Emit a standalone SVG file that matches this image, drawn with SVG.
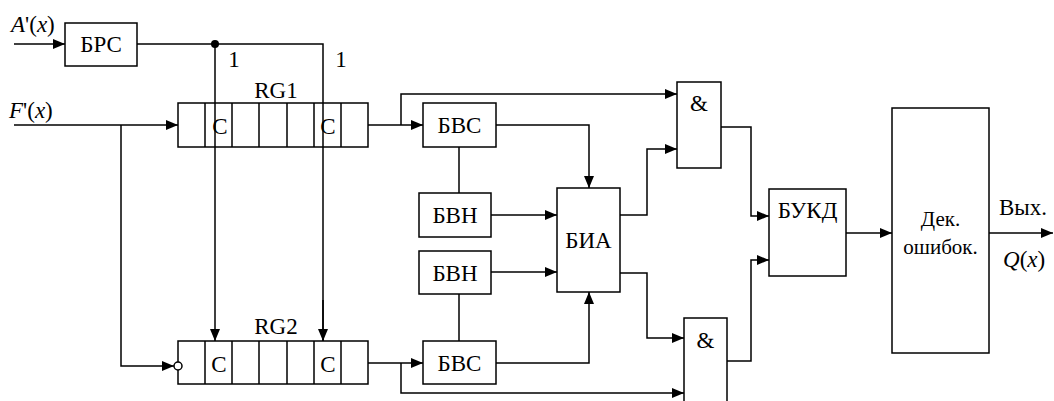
<svg xmlns="http://www.w3.org/2000/svg" width="1054" height="401" viewBox="0 0 1054 401">
<style>
.b{fill:#fff;stroke:#000;stroke-width:1.5}
.l{fill:none;stroke:#000;stroke-width:1.5}
.la{fill:none;stroke:#000;stroke-width:1.5;marker-end:url(#ah)}
.t{font-family:'Liberation Serif','Times New Roman',serif;font-size:23px;fill:#000}
.c{text-anchor:middle}
.i{font-style:italic}
</style>
<defs>
<marker id="ah" markerUnits="userSpaceOnUse" markerWidth="13" markerHeight="11" refX="12" refY="5" orient="auto">
<path d="M0,0 L12,5 L0,10 z" fill="#000"/>
</marker>
</defs>
<rect width="1054" height="401" fill="#fff"/>

<g id="connectors">
<path class="la" d="M14,44 H65"/>
<path class="l" d="M137,44 H323 V341"/>
<path class="la" d="M215,44 V341"/>
<path class="la" d="M323,300 V341"/>
<circle cx="215" cy="44" r="4" fill="#000"/>
<path class="la" d="M14,125 H178"/>
<path class="la" d="M121,125 V366 H174"/>
<path class="la" d="M368,125 H423"/>
<path class="la" d="M401,125 V94 H677"/>
<path class="la" d="M496,125 H589 V188"/>
<path class="l" d="M459,147 V193"/>
<path class="la" d="M491,215 H557"/>
<path class="la" d="M491,272 H557"/>
<path class="l" d="M459,294 V341"/>
<path class="la" d="M496,363 H589 V292"/>
<path class="la" d="M368,363 H423"/>
<path class="la" d="M401,363 V393 H684"/>
<path class="la" d="M620,215 H647 V149 H677"/>
<path class="la" d="M620,273 H647 V338 H684"/>
<path class="la" d="M721,127 H751 V216 H769"/>
<path class="la" d="M727,361 H751 V260 H769"/>
<path class="la" d="M846,233 H892"/>
<path class="la" d="M989,233 H1053"/>
</g>

<g id="inputA">
<text class="t" x="11" y="32"><tspan class="i">A</tspan>'(<tspan class="i">x</tspan>)</text>
</g>
<g id="inputF">
<text class="t" x="9" y="118"><tspan class="i">F</tspan>'(<tspan class="i">x</tspan>)</text>
</g>
<g id="brs">
<rect class="b" x="65" y="23" width="72" height="43"/>
<text class="t c" x="101" y="52">БРС</text>
</g>
<g id="labels1">
<text class="t c" x="234" y="67">1</text>
<text class="t c" x="341" y="67">1</text>
</g>
<g id="rg1">
<rect class="b" x="178" y="103" width="190" height="44"/>
<path class="l" d="M205,103 V147 M232,103 V147 M259,103 V147 M287,103 V147 M314,103 V147 M341,103 V147"/>
<text class="t c" x="220" y="134">C</text>
<text class="t c" x="328" y="134">C</text>
<text class="t c" x="276" y="98">RG1</text>
<path class="l" d="M215,103 V147 M323,103 V147"/>
</g>
<g id="rg2">
<rect class="b" x="178" y="341" width="190" height="43"/>
<path class="l" d="M205,341 V384 M232,341 V384 M259,341 V384 M287,341 V384 M314,341 V384 M341,341 V384"/>
<text class="t c" x="219" y="372">C</text>
<text class="t c" x="328" y="372">C</text>
<text class="t c" x="276" y="334">RG2</text>
<circle cx="178" cy="366" r="4" fill="#fff" stroke="#000" stroke-width="1.5"/>
</g>
<g id="bvs1">
<rect class="b" x="423" y="103" width="73" height="44"/>
<text class="t c" x="459.5" y="133">БВС</text>
</g>
<g id="bvn1">
<rect class="b" x="419" y="193" width="72" height="44"/>
<text class="t c" x="455" y="223">БВН</text>
</g>
<g id="bvn2">
<rect class="b" x="419" y="251" width="72" height="43"/>
<text class="t c" x="455" y="281">БВН</text>
</g>
<g id="bvs2">
<rect class="b" x="423" y="341" width="73" height="43"/>
<text class="t c" x="459.5" y="371">БВС</text>
</g>
<g id="bia">
<rect class="b" x="557" y="188" width="63" height="104"/>
<text class="t c" x="588.5" y="248">БИА</text>
</g>
<g id="and1">
<rect class="b" x="677" y="82" width="44" height="86"/>
<text class="t c" x="699" y="111">&amp;</text>
</g>
<g id="and2">
<rect class="b" x="684" y="318" width="43" height="95"/>
<text class="t c" x="705.5" y="348">&amp;</text>
</g>
<g id="bukd">
<rect class="b" x="769" y="189" width="77" height="87"/>
<text class="t c" x="807.5" y="218">БУКД</text>
</g>
<g id="dec">
<rect class="b" x="892" y="108" width="97" height="245"/>
<text class="t c" x="940.5" y="226" style="font-size:21px">Дек.</text>
<text class="t c" x="940.5" y="254" style="font-size:21px">ошибок.</text>
</g>
<g id="output">
<text class="t" x="999" y="215">Вых.</text>
<text class="t" x="1003" y="267"><tspan class="i">Q</tspan>(<tspan class="i">x</tspan>)</text>
</g>
</svg>
